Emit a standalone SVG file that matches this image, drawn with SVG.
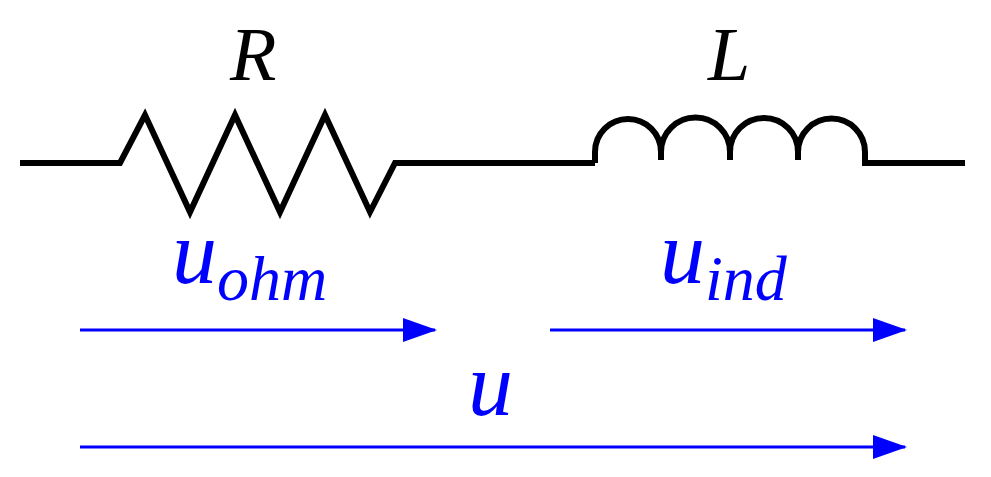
<svg xmlns="http://www.w3.org/2000/svg" width="991" height="477" viewBox="0 0 991 477">
<style>
.w{fill:none;stroke:#000;stroke-width:6;stroke-linejoin:miter}
.a{stroke:#0000ff;stroke-width:3;fill:none}
.t{font-family:"Liberation Serif",serif;font-style:italic}
.b{fill:#0000ff}
</style>
<defs><marker id="h" markerWidth="34" markerHeight="24" refX="32" refY="12" markerUnits="userSpaceOnUse" orient="auto"><path d="M0,0 L34,12 L0,24 Z" fill="#0000ff"/></marker></defs>
<g id="resistor"><path class="w" d="M20,163 H120 L145,115 L190,212 L235,115 L280,212 L325,115 L370,212 L395,163 H595"/></g>
<g id="inductor"><path class="w" d="M595,163 V152 A33,33 0 0 1 661,152 V160 M661,152 A34,34 0 0 1 730,152 V160 M730,152 A34,34 0 0 1 798,152 V160 M798,152 A33.5,33.5 0 0 1 865,152 V163 H965"/></g>
<g id="labels">
<text class="t" x="230" y="80" font-size="76">R</text>
<text class="t" x="708" y="80" font-size="76">L</text>
<text class="t b" x="172" y="283" font-size="90">u<tspan font-size="64" dy="17">ohm</tspan></text>
<text class="t b" x="660" y="283" font-size="90">u<tspan font-size="64" dy="17">ind</tspan></text>
<text class="t b" x="468" y="415" font-size="90">u</text>
</g>
<g id="connectors">
<line class="a" x1="80" y1="330" x2="435" y2="330" marker-end="url(#h)"/>
<line class="a" x1="550" y1="330" x2="905" y2="330" marker-end="url(#h)"/>
<line class="a" x1="80" y1="447" x2="905" y2="447" marker-end="url(#h)"/>
</g>
</svg>
